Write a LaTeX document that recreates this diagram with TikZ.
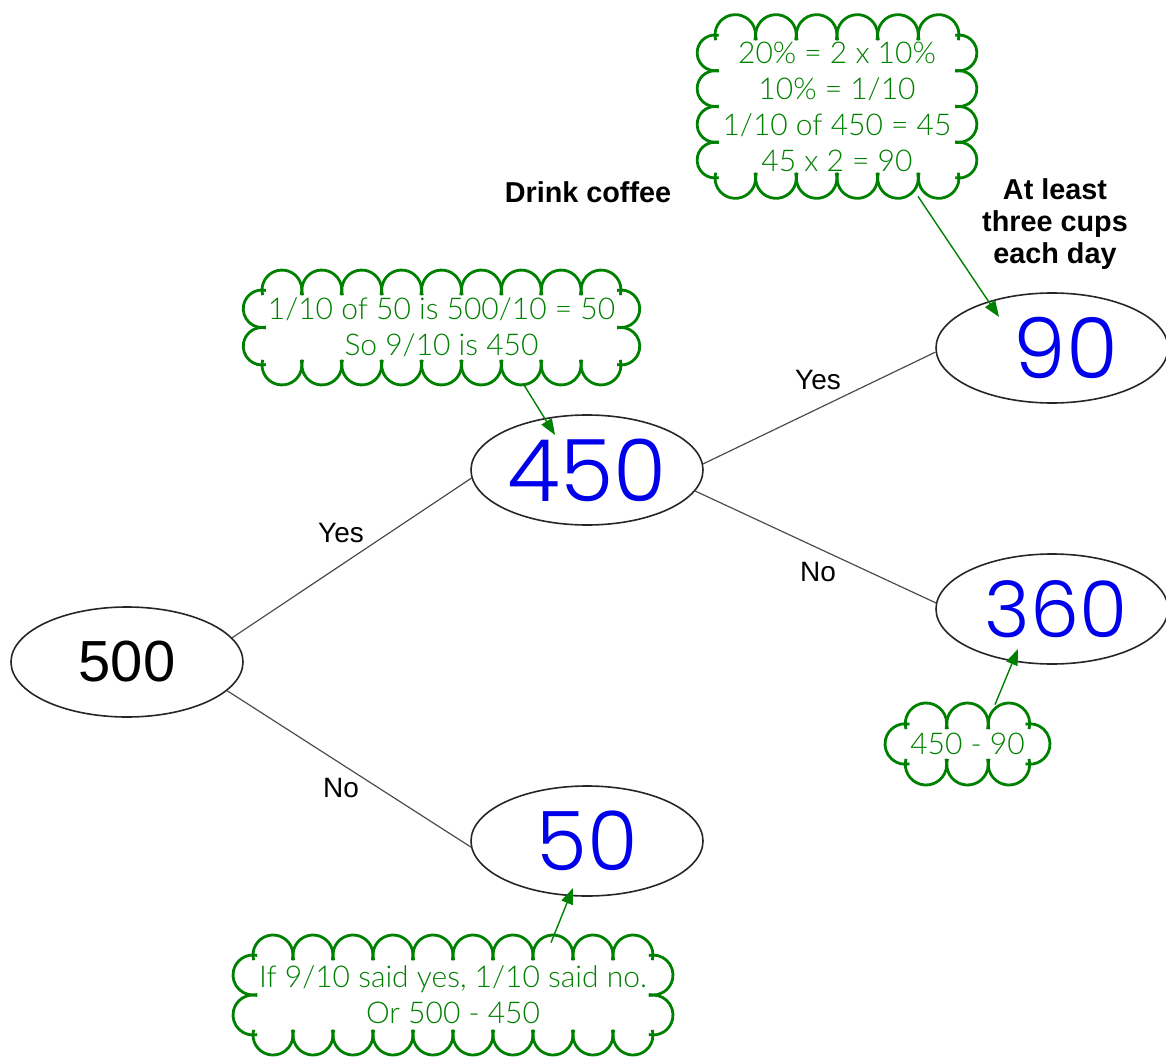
\documentclass[tikz,border=0pt]{standalone}
\usepackage{fontspec}
\setmainfont{Liberation Sans}
\newfontfamily\notefont{Lato Light}
\newfontfamily\handfont{Poppins Light}
\usetikzlibrary{arrows.meta,shapes.geometric}

\definecolor{notegreen}{RGB}{0,128,0}
\definecolor{inkblue}{RGB}{0,0,235}

\tikzset{
  box/.style={ellipse, draw=black!85, line width=0.8pt, minimum width=116pt, minimum height=55pt, inner sep=0pt},
  branch/.style={draw=black!70, line width=0.6pt},
  choice/.style={font=\fontsize{14}{16}\selectfont},
  heading/.style={font=\bfseries\fontsize{14.4}{16}\selectfont, align=center},
  hand/.style={text=inkblue, font=\handfont\fontsize{43}{43}\selectfont},
  cloudtext/.style={text=notegreen, font=\notefont\fontsize{15}{18}\selectfont, align=center, inner sep=0pt},
  cloudline/.style={draw=notegreen, line width=1.4pt},
  callout/.style={draw=notegreen, line width=0.7pt, -{Triangle[length=8pt,width=6pt]}}
}

% scalloped note: name, centre x, centre y, width, height, bumps across, bumps down, text
\newcommand{\cloudnote}[8]{%
  \node[cloudtext, minimum width=#4*0.5pt, minimum height=#5*0.5pt] (#1) at (#2,#3) {#8};
  \pgfmathsetmacro{\bumpw}{#4/#6}
  \pgfmathsetmacro{\bumph}{#5/#7}
  \foreach \i in {1,...,#6} {
    \draw[cloudline] (#2-#4/2+\i*\bumpw-\bumpw/2, #3+#5/2) ++({195}:{\bumpw/2}) arc[start angle=195, end angle=-15, radius=\bumpw/2];
    \draw[cloudline] (#2-#4/2+\i*\bumpw-\bumpw/2, #3-#5/2) ++({165}:{\bumpw/2}) arc[start angle=165, end angle=375, radius=\bumpw/2];
  }
  \foreach \j in {1,...,#7} {
    \draw[cloudline] (#2-#4/2, #3-#5/2+\j*\bumph-\bumph/2) ++({78}:{\bumph/2}) arc[start angle=78, end angle=282, radius=\bumph/2];
    \draw[cloudline] (#2+#4/2, #3-#5/2+\j*\bumph-\bumph/2) ++({-102}:{\bumph/2}) arc[start angle=-102, end angle=102, radius=\bumph/2];
  }
}

\begin{document}
\begin{tikzpicture}[x=0.5pt, y=0.5pt]

    \useasboundingbox (0,0) rectangle (1166,1057);

    % --- Tree nodes ---
    \node[box, font=\fontsize{29}{29}\selectfont] (n500) at (127,395) {500};
    \node[box, hand] (n450) at (587,587) {450};
    \node[box, hand, font=\handfont\fontsize{41}{41}\selectfont] (n50) at (587,216) {50};
    \node[box, hand, font=\handfont\fontsize{42}{42}\selectfont] (n90) at (1052,709) {\hspace{14pt}90};
    \node[box, hand, font=\handfont\fontsize{39}{39}\selectfont] (n360) at (1052,448) {\hspace{4pt}360};

    % --- Branches ---
    \draw[branch] (n500.13) -- (n450.184);
    \draw[branch] (n500.-16) -- (n50.183);
    \draw[branch] (n450.3.5) -- (n90.182);
    \draw[branch] (n450.-11) -- (n360.177);

    % --- Branch labels ---
    \node[choice] (yes1) at (341,524) {Yes};
    \node[choice] (no1) at (341,269) {No};
    \node[choice] (yes2) at (818,677) {Yes};
    \node[choice] (no2) at (818,485) {No};

    % --- Column headings ---
    \node[heading] (coffee) at (588,865) {Drink coffee};
    \node[heading] (cups) at (1055,833) {At least\\three cups\\each day};

    % --- Working notes ---
    \cloudnote{c1}{837}{950.5}{244}{143}{6}{4}{20\% = 2 x 10\%\\10\% = 1/10\\1/10 of 450 = 45\\45 x 2 = 90}
    \cloudnote{c2}{441.5}{729.5}{359}{75}{9}{2}{1/10 of 50 is 500/10 = 50\\So 9/10 is 450}
    \cloudnote{c3}{967.5}{313}{124.5}{40.5}{3}{1}{450 - 90}
    \cloudnote{c4}{453}{62}{400}{80}{10}{2}{If 9/10 said yes, 1/10 said no.\\Or 500 - 450}

    % --- Arrow tips ---
    \coordinate (tip90) at (999,740);
    \coordinate (tip450) at (555,622);
    \coordinate (tip360) at (1018,408);
    \coordinate (tip50) at (573,169);

    % --- Callouts ---
    \draw[callout] ([shift={(40.5pt,-9pt)}]c1.south) -- (tip90);
    \draw[callout] ([shift={(40.75pt,-9pt)}]c2.south) -- (tip450);
    \draw[callout] ([shift={(13.75pt,9.4pt)}]c3.north) -- (tip360);
    \draw[callout] ([shift={(49pt,6pt)}]c4.north) -- (tip50);

\end{tikzpicture}
\end{document}
